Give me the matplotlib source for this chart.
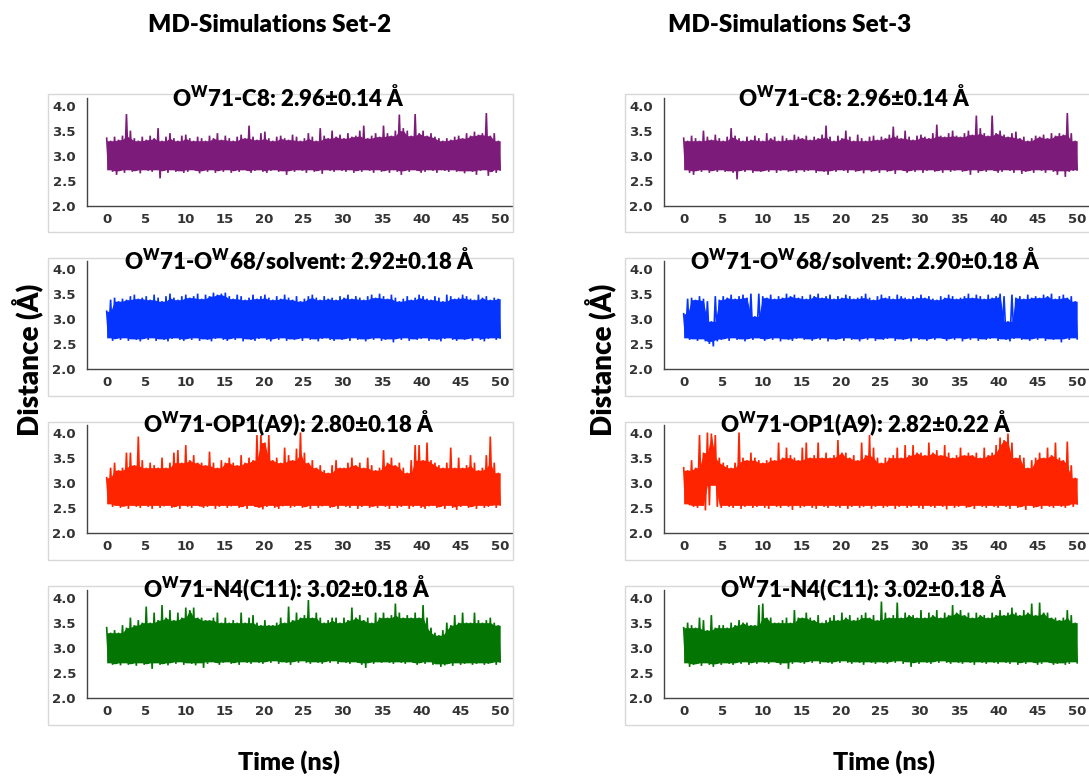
import numpy as np
import matplotlib
matplotlib.use("Agg")
import matplotlib.pyplot as plt
from matplotlib.patches import Rectangle

# ---------------- data ----------------
# Each trace: upper excursions (hi) and lower excursions (lo), ~0.5 ns apart
set2_c8_hi = [3.35, 3.3, 3.38, 3.32, 3.4, 3.83, 3.5, 3.35, 3.3, 3.38,
              3.32, 3.4, 3.35, 3.55, 3.3, 3.38, 3.45, 3.35, 3.3, 3.4,
              3.42, 3.35, 3.3, 3.38, 3.35, 3.3, 3.4, 3.35, 3.45, 3.32,
              3.4, 3.35, 3.3, 3.38, 3.42, 3.35, 3.6, 3.38, 3.32, 3.45,
              3.48, 3.35, 3.3, 3.38, 3.4, 3.35, 3.32, 3.42, 3.38, 3.3,
              3.35, 3.45, 3.38, 3.3, 3.55, 3.4, 3.35, 3.5, 3.38, 3.42,
              3.35, 3.45, 3.38, 3.4, 3.5, 3.6, 3.35, 3.4, 3.45, 3.38,
              3.6, 3.45, 3.4, 3.5, 3.82, 3.55, 3.5, 3.4, 3.83, 3.45,
              3.5, 3.4, 3.45, 3.38, 3.35, 3.3, 3.35, 3.32, 3.38, 3.4,
              3.35, 3.45, 3.4, 3.48, 3.42, 3.45, 3.85, 3.4, 3.45, 3.3]
set2_c8_lo = [2.72, 2.68, 2.62, 2.7, 2.66, 2.72, 2.68, 2.7, 2.65, 2.72,
              2.7, 2.68, 2.72, 2.55, 2.7, 2.66, 2.72, 2.68, 2.7, 2.66,
              2.68, 2.72, 2.7, 2.65, 2.7, 2.68, 2.72, 2.66, 2.7, 2.68,
              2.72, 2.66, 2.7, 2.68, 2.72, 2.7, 2.66, 2.7, 2.72, 2.68,
              2.66, 2.7, 2.72, 2.68, 2.7, 2.62, 2.7, 2.68, 2.72, 2.7,
              2.66, 2.72, 2.68, 2.7, 2.64, 2.72, 2.7, 2.68, 2.72, 2.7,
              2.68, 2.72, 2.66, 2.7, 2.68, 2.72, 2.7, 2.66, 2.72, 2.68,
              2.7, 2.66, 2.72, 2.68, 2.62, 2.7, 2.68, 2.72, 2.7, 2.66,
              2.68, 2.72, 2.7, 2.66, 2.72, 2.7, 2.68, 2.72, 2.68, 2.7,
              2.65, 2.7, 2.68, 2.62, 2.7, 2.72, 2.6, 2.68, 2.66, 2.72]

set3_c8_hi = [3.35, 3.3, 3.4, 3.35, 3.3, 3.5, 3.38, 3.32, 3.42, 3.35,
              3.3, 3.38, 3.55, 3.4, 3.35, 3.3, 3.38, 3.32, 3.4, 3.35,
              3.3, 3.45, 3.35, 3.38, 3.3, 3.4, 3.35, 3.32, 3.42, 3.38,
              3.35, 3.4, 3.32, 3.38, 3.35, 3.42, 3.6, 3.38, 3.3, 3.4,
              3.35, 3.5, 3.38, 3.3, 3.42, 3.35, 3.3, 3.38, 3.4, 3.32,
              3.38, 3.35, 3.42, 3.58, 3.4, 3.35, 3.5, 3.38, 3.32, 3.4,
              3.42, 3.38, 3.35, 3.45, 3.62, 3.4, 3.38, 3.45, 3.5, 3.4,
              3.38, 3.45, 3.5, 3.42, 3.8, 3.55, 3.45, 3.4, 3.8, 3.45,
              3.5, 3.42, 3.38, 3.45, 3.48, 3.35, 3.38, 3.3, 3.35, 3.4,
              3.38, 3.42, 3.35, 3.45, 3.4, 3.45, 3.42, 3.85, 3.45, 3.3]
set3_c8_lo = [2.72, 2.66, 2.62, 2.7, 2.68, 2.72, 2.66, 2.7, 2.68, 2.72,
              2.68, 2.7, 2.66, 2.53, 2.7, 2.68, 2.72, 2.66, 2.7, 2.68,
              2.7, 2.68, 2.72, 2.66, 2.7, 2.72, 2.68, 2.7, 2.66, 2.72,
              2.68, 2.7, 2.72, 2.66, 2.7, 2.68, 2.62, 2.7, 2.68, 2.72,
              2.7, 2.66, 2.72, 2.68, 2.7, 2.65, 2.72, 2.68, 2.7, 2.66,
              2.72, 2.68, 2.7, 2.64, 2.72, 2.7, 2.66, 2.7, 2.68, 2.72,
              2.66, 2.7, 2.72, 2.68, 2.7, 2.66, 2.72, 2.68, 2.7, 2.72,
              2.68, 2.7, 2.62, 2.72, 2.66, 2.7, 2.68, 2.72, 2.7, 2.66,
              2.68, 2.72, 2.7, 2.66, 2.72, 2.64, 2.68, 2.7, 2.66, 2.72,
              2.7, 2.66, 2.72, 2.68, 2.62, 2.7, 2.58, 2.68, 2.7, 2.72]

set2_sol_hi = [3.15, 3.38, 3.42, 3.35, 3.4, 3.38, 3.45, 3.48, 3.4, 3.42,
               3.45, 3.38, 3.48, 3.42, 3.35, 3.45, 3.5, 3.42, 3.38, 3.45,
               3.48, 3.42, 3.45, 3.5, 3.4, 3.48, 3.45, 3.52, 3.48, 3.5,
               3.52, 3.45, 3.4, 3.48, 3.45, 3.38, 3.42, 3.48, 3.4, 3.45,
               3.48, 3.42, 3.38, 3.45, 3.4, 3.48, 3.42, 3.38, 3.45, 3.35,
               3.4, 3.45, 3.48, 3.42, 3.38, 3.45, 3.4, 3.42, 3.38, 3.45,
               3.42, 3.48, 3.4, 3.45, 3.42, 3.38, 3.45, 3.48, 3.42, 3.5,
               3.45, 3.4, 3.48, 3.42, 3.35, 3.4, 3.45, 3.38, 3.42, 3.48,
               3.45, 3.4, 3.38, 3.45, 3.42, 3.35, 3.48, 3.45, 3.4, 3.42,
               3.48, 3.45, 3.4, 3.38, 3.48, 3.42, 3.45, 3.38, 3.42, 3.4]
set2_sol_lo = [2.62, 2.56, 2.6, 2.58, 2.62, 2.56, 2.6, 2.58, 2.55, 2.6,
               2.58, 2.62, 2.56, 2.6, 2.58, 2.55, 2.6, 2.62, 2.58, 2.56,
               2.6, 2.58, 2.62, 2.56, 2.6, 2.58, 2.55, 2.6, 2.62, 2.58,
               2.56, 2.6, 2.58, 2.62, 2.55, 2.6, 2.58, 2.56, 2.6, 2.62,
               2.58, 2.55, 2.6, 2.58, 2.62, 2.56, 2.6, 2.58, 2.6, 2.56,
               2.62, 2.58, 2.6, 2.55, 2.6, 2.62, 2.58, 2.56, 2.6, 2.58,
               2.6, 2.56, 2.62, 2.58, 2.6, 2.55, 2.6, 2.58, 2.62, 2.56,
               2.58, 2.6, 2.53, 2.6, 2.58, 2.62, 2.56, 2.6, 2.58, 2.6,
               2.62, 2.56, 2.6, 2.58, 2.55, 2.6, 2.62, 2.58, 2.56, 2.6,
               2.58, 2.6, 2.56, 2.62, 2.58, 2.55, 2.6, 2.62, 2.58, 2.62]

set3_sol_hi = [3.1, 3.4, 3.42, 3.38, 3.45, 3.4, 3.35, 2.95, 3.45, 3.38,
               3.45, 3.42, 3.48, 3.4, 3.45, 3.48, 3.42, 3.5, 3.05, 3.5,
               3.45, 3.42, 3.48, 3.4, 3.45, 3.42, 3.5, 3.45, 3.48, 3.42,
               3.45, 3.4, 3.48, 3.45, 3.5, 3.42, 3.45, 3.48, 3.4, 3.45,
               3.42, 3.48, 3.45, 3.4, 3.42, 3.45, 3.5, 3.42, 3.38, 3.45,
               3.48, 3.42, 3.45, 3.4, 3.48, 3.45, 3.42, 3.4, 3.45, 3.42,
               3.48, 3.42, 3.45, 3.4, 3.38, 3.45, 3.42, 3.48, 3.45, 3.4,
               3.42, 3.45, 3.5, 3.42, 3.48, 3.45, 3.4, 3.48, 3.42, 3.45,
               3.5, 3.45, 2.95, 3.48, 3.42, 3.45, 3.4, 3.48, 3.42, 3.45,
               3.42, 3.48, 3.45, 3.5, 3.4, 3.45, 3.48, 3.42, 3.45, 3.35]
set3_sol_lo = [2.62, 2.58, 2.6, 2.56, 2.6, 2.55, 2.5, 2.45, 2.55, 2.58,
               2.6, 2.56, 2.62, 2.58, 2.6, 2.55, 2.6, 2.58, 2.62, 2.6,
               2.56, 2.6, 2.58, 2.62, 2.55, 2.6, 2.58, 2.56, 2.6, 2.62,
               2.58, 2.6, 2.56, 2.6, 2.58, 2.62, 2.55, 2.6, 2.58, 2.6,
               2.56, 2.62, 2.58, 2.6, 2.55, 2.6, 2.58, 2.62, 2.56, 2.6,
               2.58, 2.6, 2.62, 2.56, 2.6, 2.58, 2.6, 2.55, 2.62, 2.58,
               2.6, 2.56, 2.6, 2.58, 2.62, 2.6, 2.56, 2.6, 2.58, 2.62,
               2.55, 2.6, 2.58, 2.62, 2.56, 2.6, 2.58, 2.6, 2.62, 2.56,
               2.6, 2.58, 2.55, 2.6, 2.62, 2.58, 2.6, 2.56, 2.6, 2.58,
               2.62, 2.56, 2.6, 2.58, 2.6, 2.53, 2.6, 2.58, 2.62, 2.6]

set2_op1_hi = [3.1, 3.3, 3.4, 3.25, 3.3, 3.6, 3.6, 3.35, 3.92, 3.45,
               3.3, 3.4, 3.35, 3.3, 3.5, 3.3, 3.4, 3.6, 3.65, 3.4,
               3.75, 3.45, 3.55, 3.4, 3.4, 3.35, 3.62, 3.4, 3.3, 3.45,
               3.4, 3.5, 3.4, 3.35, 3.55, 3.4, 3.5, 3.45, 3.95, 3.95,
               3.8, 3.95, 3.45, 3.5, 3.4, 3.7, 3.55, 3.45, 3.68, 4.0,
               3.6, 3.4, 3.45, 3.3, 3.35, 3.25, 3.2, 3.35, 3.45, 3.3,
               3.3, 3.4, 3.5, 3.35, 3.4, 3.3, 3.5, 3.35, 3.25, 3.3,
               3.65, 3.4, 3.5, 3.35, 3.4, 3.3, 3.2, 3.45, 3.75, 3.75,
               3.45, 3.8, 3.45, 3.4, 3.35, 3.3, 3.4, 3.7, 3.3, 3.5,
               3.3, 3.35, 3.55, 3.4, 3.25, 3.3, 3.55, 3.92, 3.4, 3.2]
set2_op1_lo = [2.58, 2.52, 2.55, 2.5, 2.53, 2.48, 2.55, 2.52, 2.5, 2.55,
               2.52, 2.48, 2.55, 2.5, 2.53, 2.55, 2.5, 2.52, 2.48, 2.55,
               2.52, 2.5, 2.55, 2.53, 2.5, 2.52, 2.55, 2.48, 2.52, 2.55,
               2.5, 2.53, 2.55, 2.5, 2.52, 2.48, 2.55, 2.52, 2.5, 2.47,
               2.52, 2.55, 2.5, 2.48, 2.53, 2.55, 2.5, 2.52, 2.55, 2.5,
               2.52, 2.48, 2.55, 2.5, 2.53, 2.55, 2.5, 2.52, 2.48, 2.55,
               2.52, 2.5, 2.55, 2.48, 2.52, 2.55, 2.5, 2.53, 2.5, 2.55,
               2.52, 2.48, 2.55, 2.5, 2.52, 2.55, 2.48, 2.52, 2.55, 2.5,
               2.48, 2.53, 2.55, 2.5, 2.52, 2.48, 2.55, 2.5, 2.46, 2.52,
               2.55, 2.5, 2.52, 2.48, 2.55, 2.5, 2.52, 2.55, 2.5, 2.56]

set3_op1_hi = [3.3, 3.25, 3.45, 3.3, 3.95, 3.6, 4.0, 3.98, 3.95, 3.5,
               3.4, 3.35, 3.3, 3.4, 4.0, 3.5, 3.45, 3.6, 3.5, 3.45,
               3.4, 3.45, 3.5, 3.45, 3.8, 3.5, 3.7, 3.55, 3.5, 3.45,
               3.7, 3.8, 3.5, 3.55, 3.8, 3.5, 3.6, 3.5, 3.55, 3.85,
               3.6, 3.6, 3.5, 3.55, 3.45, 3.8, 3.55, 3.95, 3.7, 3.5,
               3.4, 3.5, 3.5, 3.55, 3.7, 3.5, 3.75, 3.55, 3.75, 3.6,
               3.6, 3.55, 3.8, 3.6, 3.65, 3.55, 3.75, 3.6, 3.5, 3.55,
               3.7, 3.55, 3.6, 3.55, 3.6, 3.5, 3.7, 3.55, 3.6, 3.75,
               3.9, 3.85, 3.98, 3.8, 3.5, 3.55, 3.5, 3.3, 3.45, 3.5,
               3.6, 3.5, 3.7, 3.55, 3.8, 3.5, 3.45, 3.82, 3.35, 3.1]
set3_op1_lo = [2.58, 2.55, 2.52, 2.5, 2.55, 2.45, 2.55, 2.95, 2.52, 2.5,
               2.55, 2.52, 2.5, 2.55, 2.48, 2.52, 2.55, 2.5, 2.52, 2.55,
               2.5, 2.48, 2.55, 2.52, 2.5, 2.55, 2.52, 2.46, 2.55, 2.5,
               2.52, 2.55, 2.5, 2.48, 2.55, 2.52, 2.5, 2.55, 2.52, 2.5,
               2.55, 2.48, 2.52, 2.55, 2.5, 2.52, 2.55, 2.48, 2.52, 2.55,
               2.5, 2.52, 2.55, 2.48, 2.52, 2.55, 2.5, 2.52, 2.55, 2.5,
               2.48, 2.55, 2.52, 2.5, 2.55, 2.52, 2.47, 2.55, 2.5, 2.52,
               2.55, 2.5, 2.52, 2.48, 2.55, 2.52, 2.5, 2.55, 2.52, 2.5,
               2.55, 2.52, 2.48, 2.55, 2.5, 2.52, 2.46, 2.55, 2.5, 2.52,
               2.48, 2.55, 2.52, 2.5, 2.55, 2.52, 2.5, 2.55, 2.52, 2.58]

set2_n4_hi = [3.4, 3.3, 3.35, 3.3, 3.45, 3.4, 3.6, 3.45, 3.55, 3.5,
              3.82, 3.5, 3.7, 3.55, 3.85, 3.6, 3.75, 3.55, 3.7, 3.6,
              3.8, 3.75, 3.8, 3.6, 3.6, 3.55, 3.55, 3.6, 3.7, 3.5,
              3.6, 3.5, 3.55, 3.5, 3.7, 3.5, 3.6, 3.65, 3.5, 3.45,
              3.55, 3.45, 3.45, 3.5, 3.6, 3.5, 3.82, 3.55, 3.7, 3.6,
              3.65, 3.95, 3.6, 3.7, 3.6, 3.5, 3.55, 3.6, 3.6, 3.5,
              3.6, 3.55, 3.8, 3.6, 3.65, 3.55, 3.6, 3.5, 3.7, 3.6,
              3.7, 3.6, 3.65, 3.88, 3.7, 3.6, 3.65, 3.6, 3.7, 3.6,
              3.85, 3.6, 3.4, 3.3, 3.25, 3.35, 3.5, 3.45, 3.65, 3.5,
              3.7, 3.5, 3.5, 3.7, 3.55, 3.5, 3.55, 3.6, 3.5, 3.45]
set2_n4_lo = [2.7, 2.66, 2.68, 2.65, 2.7, 2.66, 2.68, 2.64, 2.7, 2.66,
              2.68, 2.58, 2.7, 2.66, 2.68, 2.65, 2.7, 2.68, 2.72, 2.66,
              2.7, 2.68, 2.65, 2.7, 2.6, 2.68, 2.72, 2.7, 2.66, 2.7,
              2.72, 2.68, 2.7, 2.66, 2.72, 2.7, 2.68, 2.72, 2.7, 2.68,
              2.72, 2.7, 2.74, 2.68, 2.72, 2.7, 2.66, 2.72, 2.7, 2.74,
              2.7, 2.68, 2.72, 2.7, 2.68, 2.72, 2.7, 2.74, 2.68, 2.72,
              2.7, 2.68, 2.72, 2.7, 2.66, 2.6, 2.7, 2.68, 2.72, 2.7,
              2.72, 2.7, 2.68, 2.72, 2.7, 2.68, 2.72, 2.7, 2.66, 2.7,
              2.68, 2.72, 2.66, 2.68, 2.62, 2.65, 2.68, 2.64, 2.7, 2.66,
              2.68, 2.7, 2.66, 2.68, 2.7, 2.66, 2.68, 2.7, 2.66, 2.72]

set3_n4_hi = [3.4, 3.5, 3.45, 3.4, 3.6, 3.55, 3.35, 3.65, 3.4, 3.45,
              3.45, 3.4, 3.5, 3.45, 3.55, 3.5, 3.5, 3.45, 3.45, 3.85,
              3.88, 3.6, 3.6, 3.5, 3.5, 3.55, 3.6, 3.5, 3.75, 3.6,
              3.6, 3.7, 3.6, 3.55, 3.65, 3.5, 3.55, 3.6, 3.65, 3.55,
              3.7, 3.6, 3.65, 3.55, 3.6, 3.65, 3.7, 3.6, 3.65, 3.55,
              3.92, 3.7, 3.6, 3.65, 3.9, 3.6, 3.7, 3.65, 3.65, 3.6,
              3.75, 3.6, 3.7, 3.65, 3.75, 3.6, 3.7, 3.65, 3.85, 3.7,
              3.75, 3.65, 3.7, 3.6, 3.7, 3.65, 3.65, 3.6, 3.7, 3.65,
              3.75, 3.65, 3.7, 3.8, 3.7, 3.65, 3.75, 3.7, 3.88, 3.65,
              3.9, 3.7, 3.7, 3.6, 3.6, 3.55, 3.6, 3.75, 3.65, 3.5]
set3_n4_lo = [2.7, 2.62, 2.66, 2.68, 2.64, 2.7, 2.66, 2.62, 2.68, 2.66,
              2.7, 2.68, 2.66, 2.7, 2.68, 2.72, 2.66, 2.7, 2.68, 2.72,
              2.7, 2.68, 2.72, 2.7, 2.66, 2.7, 2.58, 2.68, 2.72, 2.7,
              2.68, 2.72, 2.7, 2.74, 2.68, 2.72, 2.7, 2.68, 2.72, 2.7,
              2.74, 2.7, 2.68, 2.72, 2.7, 2.66, 2.72, 2.7, 2.68, 2.72,
              2.7, 2.68, 2.72, 2.7, 2.74, 2.68, 2.72, 2.62, 2.7, 2.68,
              2.72, 2.7, 2.68, 2.72, 2.7, 2.74, 2.7, 2.68, 2.72, 2.7,
              2.68, 2.72, 2.7, 2.66, 2.72, 2.7, 2.68, 2.72, 2.7, 2.68,
              2.72, 2.7, 2.68, 2.72, 2.66, 2.7, 2.68, 2.72, 2.7, 2.66,
              2.68, 2.72, 2.7, 2.66, 2.68, 2.7, 2.66, 2.68, 2.72, 2.7]

titles_set2 = ["O$^{\\mathrm{W}}$71-C8: 2.96±0.14 Å",
               "O$^{\\mathrm{W}}$71-O$^{\\mathrm{W}}$68/solvent: 2.92±0.18 Å",
               "O$^{\\mathrm{W}}$71-OP1(A9): 2.80±0.18 Å",
               "O$^{\\mathrm{W}}$71-N4(C11): 3.02±0.18 Å"]
titles_set3 = ["O$^{\\mathrm{W}}$71-C8: 2.96±0.14 Å",
               "O$^{\\mathrm{W}}$71-O$^{\\mathrm{W}}$68/solvent: 2.90±0.18 Å",
               "O$^{\\mathrm{W}}$71-OP1(A9): 2.82±0.22 Å",
               "O$^{\\mathrm{W}}$71-N4(C11): 3.02±0.18 Å"]
col_headers = ["MD-Simulations Set-2", "MD-Simulations Set-3"]
x_ticks = [0, 5, 10, 15, 20, 25, 30, 35, 40, 45, 50]
y_ticks = [2.0, 2.5, 3.0, 3.5, 4.0]
t_max = 50.0

series = [
    [(set2_c8_hi, set2_c8_lo), (set2_sol_hi, set2_sol_lo),
     (set2_op1_hi, set2_op1_lo), (set2_n4_hi, set2_n4_lo)],
    [(set3_c8_hi, set3_c8_lo), (set3_sol_hi, set3_sol_lo),
     (set3_op1_hi, set3_op1_lo), (set3_n4_hi, set3_n4_lo)],
]
row_colors = ["#7d1b7a", "#0533ff", "#ff2400", "#027502"]

# ---------------- styling ----------------
plt.rcParams['mathtext.fontset'] = 'custom'
plt.rcParams['mathtext.rm'] = 'Lato:heavy'
plt.rcParams['mathtext.bf'] = 'Lato:heavy'
plt.rcParams['mathtext.it'] = 'Lato:heavy'

W, H = 1089, 776
fig = plt.figure(figsize=(W / 100, H / 100), dpi=100)

def frac(x0, y0, x1, y1):
    """pixel box (top-left origin) -> figure fraction rect"""
    return [x0 / W, 1 - y1 / H, (x1 - x0) / W, (y1 - y0) / H]

ax_left = [87, 664]
ax_width = 425
spine_y = [206, 369, 533, 698]
ax_height = 108
box_x = [(48, 513), (625, 1095)]
box_y = [(94, 232), (258, 396), (422, 560), (586, 725)]
title_x = [[288, 854], [299, 865], [289, 866], [287, 864]]
title_y = [97, 260, 423, 588]

def trace(hi, lo):
    """alternate upper and lower excursions along the time axis"""
    n = min(len(hi), len(lo))
    h = np.asarray(hi[:n], float)
    l = np.asarray(lo[:n], float)
    v = np.empty(2 * n)
    v[0::2] = h
    v[1::2] = l
    t = np.linspace(0, t_max, 2 * n)
    # densely covered core: below the lower of neighbouring peaks,
    # above the higher of neighbouring troughs
    hp = np.pad(h, 1, mode='edge')
    lp = np.pad(l, 1, mode='edge')
    core_hi = np.minimum(np.minimum(hp[:-2], hp[1:-1]), hp[2:])
    core_lo = np.maximum(np.maximum(lp[:-2], lp[1:-1]), lp[2:])
    tc = np.append(t[0::2], t[-1])
    core_hi = np.append(core_hi, core_hi[-1])
    core_lo = np.append(core_lo, core_lo[-1])
    return t, v, tc, core_lo, core_hi

for c in range(2):
    for r in range(4):
        # outer light frame
        bx0, bx1 = box_x[c]
        by0, by1 = box_y[r]
        fig.patches.append(Rectangle((bx0 / W, 1 - by1 / H), (bx1 - bx0) / W,
                                     (by1 - by0) / H, transform=fig.transFigure,
                                     fill=False, edgecolor='#d8d8d8', lw=1.0,
                                     zorder=0))
        ax = fig.add_axes(frac(ax_left[c], spine_y[r] - ax_height,
                               ax_left[c] + ax_width, spine_y[r]))
        ax.patch.set_alpha(0)
        hi, lo = series[c][r]
        t, v, tc, clo, chi = trace(hi, lo)
        ax.fill_between(tc, clo, chi, color=row_colors[r], lw=0)
        ax.plot(t, v, color=row_colors[r], lw=1.2, solid_joinstyle='miter')
        ax.set_xlim(-2.5, 51.5)
        ax.set_ylim(2.0, 4.15)
        ax.set_xticks(x_ticks)
        ax.set_yticks(y_ticks)
        ax.set_yticklabels([f"{y:.1f}" for y in y_ticks])
        for s in ['top', 'right']:
            ax.spines[s].set_visible(False)
        for s in ['left', 'bottom']:
            ax.spines[s].set_color('#444444')
            ax.spines[s].set_linewidth(1.0)
        ax.tick_params(length=0, labelsize=9.5, labelcolor='#333333')
        ax.tick_params(axis='y', pad=8)
        ax.tick_params(axis='x', pad=5)
        for lab in ax.get_xticklabels() + ax.get_yticklabels():
            lab.set_fontweight('bold')
            lab.set_family('DejaVu Sans')
        titles = titles_set2 if c == 0 else titles_set3
        fig.text(title_x[r][c] / W, 1 - title_y[r] / H, titles[r],
                 ha='center', va='center', fontsize=16, fontweight='heavy',
                 family='Lato', color='black')

# column headers
for x, txt in zip([270, 790], col_headers):
    fig.text(x / W, 1 - 25 / H, txt, ha='center', va='center',
             fontsize=17.5, fontweight='heavy', family='Lato')
# axis labels
for x in [27, 600]:
    fig.text(x / W, 1 - 360 / H, "Distance (Å)", ha='center', va='center',
             rotation=90, fontsize=20, fontweight='heavy', family='Lato')
for x in [289, 884]:
    fig.text(x / W, 1 - 762 / H, "Time (ns)", ha='center', va='center',
             fontsize=18, fontweight='heavy', family='Lato')

fig.savefig("out.png", dpi=100)
